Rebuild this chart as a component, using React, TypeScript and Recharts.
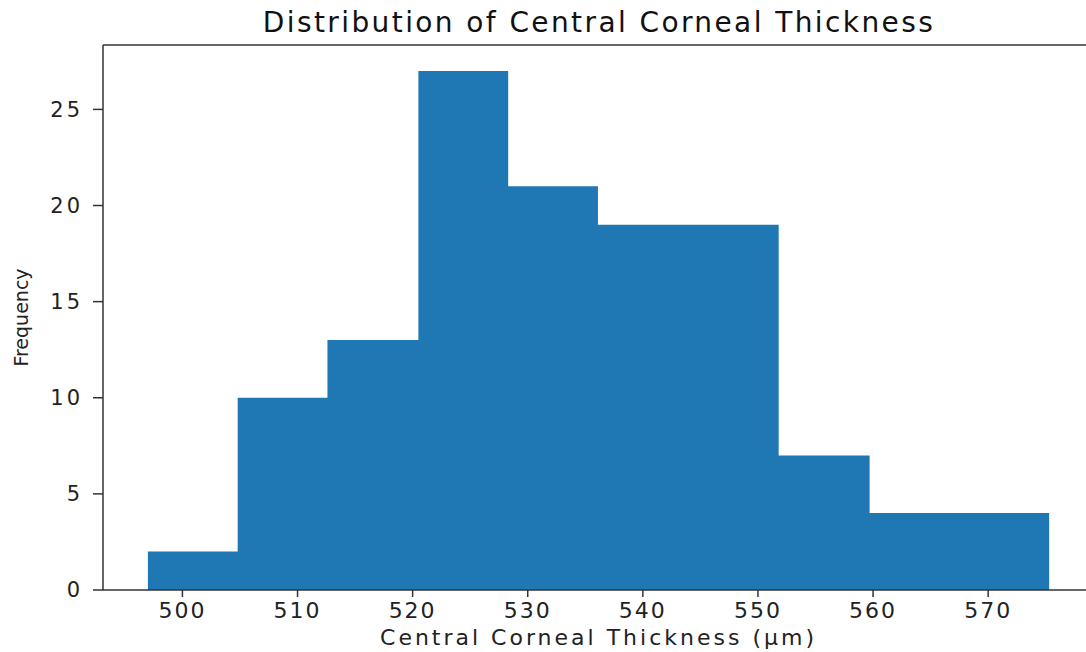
import React from 'react';
import { ComposedChart, Area, XAxis, YAxis, ReferenceLine, Label } from 'recharts';

// histogram bins (left edges + last right edge)
const binEdges = [497.0, 504.8, 512.6, 520.5, 528.3, 536.1, 544.0, 551.8, 559.7, 567.5, 575.3];
const counts = [2, 10, 13, 27, 21, 19, 19, 7, 4, 4];
const xTicks = [500, 510, 520, 530, 540, 550, 560, 570];
const yTicks = [0, 5, 10, 15, 20, 25];
// right side of the axes is cut off by the picture edge
const xDomain = [493.1, 578.5];
const yDomain = [0, 28.35];

// stepAfter area: each edge carries the count of the bin that starts there
const data = binEdges.map((edge, i) => ({ x: edge, count: counts[Math.min(i, counts.length - 1)] }));

const axisColor = '#333';
const textColor = '#222';

export default function App() {
  return (
    <div style={{ position: 'absolute', left: 0, top: 0, width: 1086, height: 652, overflow: 'hidden', background: '#fff' }}>
      <div
        style={{
          position: 'absolute',
          left: 599,
          top: 9,
          transform: 'translateX(-50%)',
          whiteSpace: 'nowrap',
          fontFamily: 'DejaVu Sans',
          fontSize: 28,
          lineHeight: '28px',
          letterSpacing: 2.4,
          color: '#111',
        }}
      >
        Distribution of Central Corneal Thickness
      </div>
      <ComposedChart width={1086} height={652} data={data} margin={{ top: 45, right: 0, bottom: 0, left: 0 }}>
        <XAxis
          dataKey="x"
          type="number"
          domain={xDomain}
          ticks={xTicks}
          allowDataOverflow
          height={62}
          stroke={axisColor}
          strokeWidth={1.5}
          tickSize={7}
          tickMargin={5}
          tick={{ fill: textColor, fontSize: 22, fontFamily: 'DejaVu Sans', letterSpacing: 2 }}
        >
          <Label
            value="Central Corneal Thickness (µm)"
            position="insideBottom"
            offset={7}
            dx={4}
            style={{ fill: textColor, fontSize: 22, fontFamily: 'DejaVu Sans', letterSpacing: 3 }}
          />
        </XAxis>
        <YAxis
          type="number"
          domain={yDomain}
          ticks={yTicks}
          allowDataOverflow
          width={103}
          stroke={axisColor}
          strokeWidth={1.5}
          tickSize={10}
          tickMargin={10}
          tick={{ fill: textColor, fontSize: 21, fontFamily: 'DejaVu Sans', letterSpacing: 3 }}
        >
          <Label
            value="Frequency"
            angle={-90}
            position="insideLeft"
            offset={21}
            style={{ fill: textColor, fontSize: 19, fontFamily: 'DejaVu Sans', textAnchor: 'middle' }}
          />
        </YAxis>
        <Area
          type="stepAfter"
          dataKey="count"
          stroke="none"
          fill="#1f77b4"
          fillOpacity={1}
          isAnimationActive={false}
          dot={false}
          activeDot={false}
        />
        <ReferenceLine y={yDomain[1]} stroke={axisColor} strokeWidth={1.5} ifOverflow="visible" />
      </ComposedChart>
    </div>
  );
}
